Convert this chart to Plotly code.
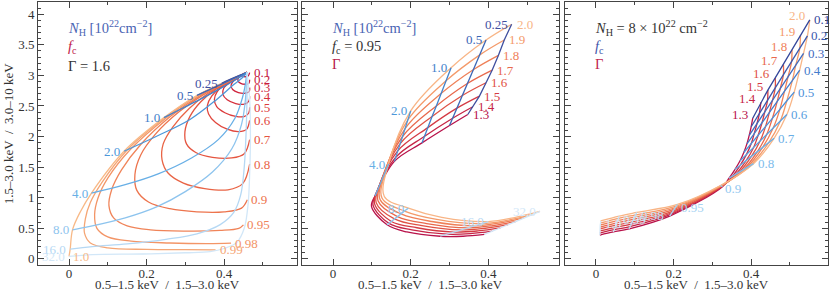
import plotly.graph_objects as go

FONT = "Liberation Serif"

# ---------------- Panel 1: Gamma = 1.6, N_H lines and f_c loops ----------------
P1_NH_LABELS = ["0.25", "0.5", "1.0", "2.0", "4.0", "8.0", "16.0", "32.0"]
P1_NH_X = [
    [0.394, 0.426, 0.459],
    [0.330, 0.395, 0.459],
    [0.245, 0.290, 0.338, 0.400, 0.435, 0.459],
    [0.142, 0.226, 0.312, 0.381, 0.425, 0.447, 0.459],
    [0.058, 0.145, 0.230, 0.316, 0.385, 0.428, 0.448, 0.456, 0.459],
    [0.009, 0.054, 0.145, 0.226, 0.300, 0.370, 0.420, 0.445, 0.455, 0.459],
    [0.003, 0.060, 0.150, 0.250, 0.330, 0.390, 0.425, 0.443, 0.452, 0.457, 0.459, 0.459],
    [0.000, 0.060, 0.190, 0.300, 0.364, 0.400, 0.433, 0.452, 0.462, 0.466, 0.468, 0.466, 0.459],
]
P1_NH_Y = [
    [2.870, 2.962, 3.050],
    [2.672, 2.862, 3.050],
    [2.310, 2.455, 2.607, 2.820, 2.950, 3.050],
    [1.760, 2.005, 2.279, 2.607, 2.850, 2.960, 3.050],
    [1.077, 1.213, 1.390, 1.650, 1.950, 2.300, 2.650, 2.900, 3.050],
    [0.475, 0.530, 0.670, 0.850, 1.100, 1.420, 1.800, 2.200, 2.600, 3.050],
    [0.159, 0.200, 0.245, 0.320, 0.410, 0.560, 0.760, 1.050, 1.500, 2.100, 2.600, 3.050],
    [0.040, 0.070, 0.080, 0.100, 0.120, 0.170, 0.270, 0.500, 0.900, 1.400, 2.000, 2.600, 3.050],
]

P1_FC_LABELS = ["0.1", "0.2", "0.3", "0.4", "0.5", "0.6", "0.7", "0.8", "0.9", "0.95", "0.98", "0.99", "1.0"]
P1_FC_X = [
    [0.459, 0.452, 0.447, 0.448, 0.455, 0.462, 0.466],
    [0.459, 0.447, 0.437, 0.436, 0.443, 0.455, 0.464, 0.466],
    [0.459, 0.443, 0.425, 0.418, 0.422, 0.437, 0.455, 0.465, 0.466],
    [0.459, 0.438, 0.413, 0.399, 0.397, 0.408, 0.430, 0.452, 0.464, 0.466],
    [0.459, 0.433, 0.402, 0.382, 0.375, 0.381, 0.402, 0.430, 0.453, 0.464, 0.466],
    [0.459, 0.428, 0.392, 0.368, 0.357, 0.360, 0.378, 0.408, 0.438, 0.458, 0.466],
    [0.459, 0.423, 0.378, 0.340, 0.312, 0.299, 0.303, 0.327, 0.370, 0.420, 0.452, 0.466],
    [0.459, 0.418, 0.362, 0.310, 0.268, 0.243, 0.240, 0.256, 0.295, 0.350, 0.410, 0.448, 0.466],
    [0.459, 0.410, 0.348, 0.283, 0.223, 0.185, 0.170, 0.175, 0.205, 0.260, 0.330, 0.400, 0.445, 0.460],
    [0.459, 0.403, 0.338, 0.262, 0.185, 0.135, 0.110, 0.103, 0.115, 0.150, 0.210, 0.300, 0.390, 0.438, 0.450],
    [0.459, 0.398, 0.333, 0.252, 0.160, 0.100, 0.075, 0.066, 0.072, 0.100, 0.160, 0.260, 0.360, 0.418],
    [0.459, 0.396, 0.331, 0.248, 0.150, 0.085, 0.055, 0.042, 0.040, 0.055, 0.100, 0.200, 0.300, 0.378],
    [0.459, 0.394, 0.330, 0.245, 0.142, 0.058, 0.030, 0.009, 0.003, 0.000],
]
P1_FC_Y = [
    [3.05, 3.035, 3.012, 2.99, 2.978, 2.99, 3.045],
    [3.05, 3.01, 2.96, 2.91, 2.87, 2.855, 2.87, 2.93],
    [3.05, 2.99, 2.91, 2.84, 2.77, 2.72, 2.71, 2.74, 2.80],
    [3.05, 2.975, 2.88, 2.79, 2.69, 2.60, 2.54, 2.53, 2.58, 2.66],
    [3.05, 2.96, 2.85, 2.73, 2.61, 2.49, 2.39, 2.33, 2.33, 2.39, 2.48],
    [3.05, 2.945, 2.81, 2.66, 2.51, 2.37, 2.23, 2.12, 2.08, 2.12, 2.265],
    [3.05, 2.93, 2.77, 2.57, 2.33, 2.08, 1.88, 1.74, 1.66, 1.65, 1.72, 1.95],
    [3.05, 2.915, 2.72, 2.46, 2.16, 1.88, 1.62, 1.40, 1.24, 1.15, 1.13, 1.23, 1.55],
    [3.05, 2.895, 2.69, 2.40, 2.04, 1.70, 1.38, 1.12, 0.93, 0.82, 0.77, 0.77, 0.83, 0.967],
    [3.05, 2.88, 2.67, 2.33, 1.87, 1.45, 1.13, 0.87, 0.67, 0.54, 0.475, 0.455, 0.465, 0.50, 0.557],
    [3.05, 2.872, 2.672, 2.312, 1.80, 1.32, 1.00, 0.72, 0.50, 0.36, 0.29, 0.26, 0.25, 0.257],
    [3.05, 2.871, 2.672, 2.311, 1.78, 1.25, 0.92, 0.65, 0.42, 0.26, 0.18, 0.155, 0.15, 0.148],
    [3.05, 2.870, 2.672, 2.310, 1.760, 1.077, 0.780, 0.475, 0.159, 0.040],
]

# ---------------- Panel 2: f_c = 0.95, Gamma curves vs N_H ----------------
P2_GAMMA_LABELS = ["1.3", "1.4", "1.5", "1.6", "1.7", "1.8", "1.9", "2.0"]
P2_NODE_NH = ["0.25", "0.5", "1.0", "2.0", "4.0", "", "8.0", "", "16.0", "", "32.0"]
P2_X = [
    [0.347, 0.360, 0.377, 0.394, 0.410, 0.426, 0.441, 0.460],
    [0.300, 0.308, 0.319, 0.333, 0.346, 0.362, 0.378, 0.394],
    [0.229, 0.235, 0.244, 0.255, 0.266, 0.278, 0.291, 0.304],
    [0.158, 0.162, 0.166, 0.173, 0.179, 0.186, 0.193, 0.200],
    [0.108, 0.111, 0.115, 0.120, 0.125, 0.131, 0.137, 0.143],
    [0.099, 0.103, 0.107, 0.111, 0.116, 0.121, 0.126, 0.132],
    [0.139, 0.144, 0.150, 0.158, 0.166, 0.175, 0.184, 0.194],
    [0.190, 0.203, 0.216, 0.229, 0.241, 0.254, 0.267, 0.280],
    [0.276, 0.294, 0.311, 0.329, 0.347, 0.365, 0.382, 0.400],
    [0.335, 0.354, 0.373, 0.392, 0.412, 0.431, 0.451, 0.470],
    [0.390, 0.410, 0.431, 0.451, 0.472, 0.492, 0.513, 0.533],
]
P2_Y = [
    [2.361, 2.487, 2.661, 2.880, 3.087, 3.328, 3.579, 3.836],
    [2.180, 2.299, 2.464, 2.672, 2.868, 3.096, 3.336, 3.579],
    [1.896, 2.001, 2.146, 2.329, 2.501, 2.702, 2.912, 3.126],
    [1.595, 1.665, 1.762, 1.885, 2.001, 2.135, 2.276, 2.420],
    [1.030, 1.074, 1.136, 1.213, 1.286, 1.371, 1.460, 1.550],
    [0.860, 0.880, 0.900, 0.920, 0.945, 0.970, 0.995, 1.020],
    [0.557, 0.580, 0.612, 0.653, 0.691, 0.736, 0.782, 0.830],
    [0.440, 0.474, 0.509, 0.543, 0.577, 0.611, 0.646, 0.680],
    [0.370, 0.404, 0.439, 0.473, 0.507, 0.541, 0.576, 0.610],
    [0.370, 0.414, 0.457, 0.501, 0.545, 0.589, 0.632, 0.680],
    [0.400, 0.454, 0.507, 0.561, 0.615, 0.669, 0.722, 0.776],
]

# ---------------- Panel 3: N_H = 8e22, Gamma curves vs f_c ----------------
P3_GAMMA_LABELS = ["1.3", "1.4", "1.5", "1.6", "1.7", "1.8", "1.9", "2.0"]
P3_FC_LABELS = ["0.1", "0.2", "0.3", "0.4", "0.5", "0.6", "0.7", "0.8", "0.9", "0.95", "0.98", "0.99", "1.0"]
P3_X = [
    [0.404, 0.425, 0.443, 0.462, 0.483, 0.505, 0.527, 0.551],
    [0.400, 0.421, 0.442, 0.462, 0.483, 0.504, 0.525, 0.545],
    [0.395, 0.415, 0.435, 0.455, 0.475, 0.495, 0.515, 0.535],
    [0.389, 0.408, 0.428, 0.447, 0.467, 0.486, 0.506, 0.525],
    [0.381, 0.400, 0.418, 0.437, 0.455, 0.474, 0.492, 0.511],
    [0.371, 0.388, 0.406, 0.423, 0.440, 0.457, 0.475, 0.492],
    [0.358, 0.372, 0.387, 0.401, 0.416, 0.430, 0.445, 0.459],
    [0.343, 0.352, 0.361, 0.370, 0.379, 0.388, 0.397, 0.406],
    [0.326, 0.325, 0.325, 0.324, 0.323, 0.323, 0.322, 0.321],
    [0.190, 0.193, 0.196, 0.199, 0.201, 0.204, 0.207, 0.210],
    [0.085, 0.088, 0.091, 0.094, 0.096, 0.099, 0.102, 0.105],
    [0.045, 0.047, 0.049, 0.051, 0.054, 0.056, 0.058, 0.060],
    [0.010, 0.010, 0.011, 0.011, 0.011, 0.011, 0.012, 0.012],
]
P3_Y = [
    [2.300, 2.560, 2.760, 2.960, 3.180, 3.415, 3.656, 3.907],
    [2.160, 2.372, 2.584, 2.796, 3.008, 3.221, 3.433, 3.645],
    [2.020, 2.212, 2.403, 2.595, 2.786, 2.978, 3.170, 3.361],
    [1.880, 2.052, 2.225, 2.397, 2.570, 2.742, 2.914, 3.087],
    [1.740, 1.881, 2.022, 2.163, 2.304, 2.445, 2.586, 2.727],
    [1.600, 1.709, 1.817, 1.926, 2.034, 2.143, 2.251, 2.360],
    [1.460, 1.533, 1.606, 1.679, 1.753, 1.826, 1.899, 1.972],
    [1.320, 1.354, 1.388, 1.422, 1.455, 1.489, 1.523, 1.557],
    [1.180, 1.183, 1.186, 1.189, 1.191, 1.194, 1.197, 1.200],
    [0.700, 0.727, 0.754, 0.781, 0.809, 0.836, 0.863, 0.890],
    [0.490, 0.529, 0.567, 0.606, 0.644, 0.683, 0.721, 0.760],
    [0.440, 0.477, 0.514, 0.551, 0.589, 0.626, 0.663, 0.700],
    [0.390, 0.423, 0.456, 0.489, 0.521, 0.554, 0.587, 0.620],
]

# ---------------- styles ----------------
NH_COLORS = ["#3f4f9f", "#3c66b6", "#4282cb", "#4d97d9", "#68afe6", "#8dc4ee", "#b5d8f4", "#d2e7f8"]
FC_RED = ["#c2153f", "#c81c3e", "#cf253d", "#d6303c", "#dc3b3c", "#e1473d", "#e55540",
          "#e96445", "#ed744d", "#f08459", "#f39567", "#f5a675", "#f8b987"]
GAMMA_COLORS = ["#b8124a", "#c62446", "#d43a44", "#df5245", "#e8684c", "#ef8058", "#f49a6a", "#f8b586"]
FC_BLUE = ["#34479b", "#3a58ad", "#3f6abe", "#457dcc", "#4d8fd8", "#59a0e0", "#68aee6",
           "#7cbcec", "#92c8f0", "#a6d2f2", "#b8dcf5", "#c6e3f7", "#d3e9f9"]
LW = 1.3
LBL = 13

fig = go.Figure()
ann = []


def line(x, y, color, xa, ya, shape="spline"):
    fig.add_trace(go.Scatter(x=x, y=y, mode="lines", xaxis=xa, yaxis=ya,
                             line=dict(color=color, width=LW, shape=shape, smoothing=1.0),
                             hoverinfo="skip", showlegend=False))


def label(text, x, y, color, xa, ya, anchor, xs=0, ys=0):
    ann.append(dict(text=text, x=x, y=y, xref=xa, yref=ya, showarrow=False,
                    xanchor=anchor, yanchor="middle", xshift=xs, yshift=ys,
                    font=dict(family=FONT, size=LBL, color=color)))


# panel 1
for i, lab in enumerate(P1_FC_LABELS):
    line(P1_FC_X[i], P1_FC_Y[i], FC_RED[i], "x", "y")
for i, lab in enumerate(P1_NH_LABELS):
    line(P1_NH_X[i], P1_NH_Y[i], NH_COLORS[i], "x", "y")
for i, lab in enumerate(P1_FC_LABELS):
    label(lab, P1_FC_X[i][-1], P1_FC_Y[i][-1], FC_RED[i], "x", "y", "left", xs=2)
for i, lab in enumerate(P1_NH_LABELS):
    label(lab, P1_NH_X[i][0], P1_NH_Y[i][0], NH_COLORS[i], "x", "y", "right", xs=-2)

# panel 2
for j, lab in enumerate(P2_GAMMA_LABELS):
    line([r[j] for r in P2_X], [r[j] for r in P2_Y], GAMMA_COLORS[j], "x2", "y2")
nh_k = 0
for r, lab in enumerate(P2_NODE_NH):
    if lab:
        line(P2_X[r], P2_Y[r], NH_COLORS[nh_k], "x2", "y2", shape="linear")
        label(lab, P2_X[r][-1], P2_Y[r][-1], NH_COLORS[nh_k], "x2", "y2", "right", xs=-2)
        nh_k += 1
for j, lab in enumerate(P2_GAMMA_LABELS):
    label(lab, P2_X[0][j], P2_Y[0][j], GAMMA_COLORS[j], "x2", "y2", "left", xs=3)

# panel 3
for j, lab in enumerate(P3_GAMMA_LABELS):
    line([r[j] for r in P3_X], [r[j] for r in P3_Y], GAMMA_COLORS[j], "x3", "y3")
for r, lab in enumerate(P3_FC_LABELS):
    line(P3_X[r], P3_Y[r], FC_BLUE[r], "x3", "y3", shape="linear")
    label(lab, P3_X[r][-1], P3_Y[r][-1], FC_BLUE[r], "x3", "y3", "left",
          xs=2, ys=(-3 if r >= 8 else 0))
for j, lab in enumerate(P3_GAMMA_LABELS):
    label(lab, P3_X[0][j], P3_Y[0][j], GAMMA_COLORS[j], "x3", "y3", "right", xs=-3, ys=4)


# headers
def head(text, x, y, color, xa, ya):
    ann.append(dict(text=text, x=x, y=y, xref=xa, yref=ya, showarrow=False,
                    xanchor="left", yanchor="middle",
                    font=dict(family=FONT, size=14.5, color=color)))


NH_TXT = "<i>N</i><sub>H</sub> [10<sup>22</sup>cm<sup>−2</sup>]"
head(NH_TXT, -0.008, 3.77, "#4a64b4", "x", "y")
head("<i>f</i><sub>c</sub>", -0.008, 3.46, "#c0204a", "x", "y")
head("Γ = 1.6", -0.008, 3.16, "#333333", "x", "y")
head(NH_TXT, -0.008, 3.77, "#4a64b4", "x2", "y2")
head("<i>f</i><sub>c</sub> = 0.95", -0.008, 3.47, "#333333", "x2", "y2")
head("Γ", -0.008, 3.19, "#b8184a", "x2", "y2")
head("<i>N</i><sub>H</sub> = 8 × 10<sup>22</sup> cm<sup>−2</sup>", -0.008, 3.78, "#333333", "x3", "y3")
head("<i>f</i><sub>c</sub>", -0.008, 3.46, "#3f55a8", "x3", "y3")
head("Γ", -0.008, 3.18, "#c02850", "x3", "y3")

# axis titles
XT = "0.5–1.5 keV  /  1.5–3.0 keV"
for xc in [0.1639, 0.4968, 0.8335]:
    ann.append(dict(text=XT, x=xc, y=-0.074, xref="paper", yref="paper", showarrow=False,
                    xanchor="center", yanchor="middle",
                    font=dict(family=FONT, size=13, color="#333333")))
ann.append(dict(text="1.5–3.0 keV  /  3.0–10 keV", x=-0.037, y=0.5, xref="paper", yref="paper",
                showarrow=False, textangle=-90, xanchor="center", yanchor="middle",
                font=dict(family=FONT, size=13, color="#333333")))

AX = dict(showline=True, linecolor="#444444", linewidth=1, mirror="allticks",
          ticks="inside", ticklen=6, tickcolor="#444444", tickwidth=1,
          showgrid=False, zeroline=False,
          tickfont=dict(family=FONT, size=13, color="#333333"))
XMIN = dict(dtick=0.1, tick0=0, ticks="inside", ticklen=3, tickcolor="#444444", showgrid=False)
YMIN = dict(dtick=0.1, tick0=0, ticks="inside", ticklen=3, tickcolor="#444444", showgrid=False)

X_DOMAINS = [[0.0, 0.3278], [0.3342, 0.6595], [0.667, 1.0]]
X_RANGES = [[-0.08, 0.588], [-0.08, 0.582], [-0.08, 0.598]]

layout = dict(width=830, height=294, margin=dict(l=38, r=2, t=2, b=29),
              paper_bgcolor="white", plot_bgcolor="white", annotations=ann,
              font=dict(family=FONT))
for k in range(3):
    sx = "" if k == 0 else str(k + 1)
    layout["xaxis" + sx] = dict(AX, domain=X_DOMAINS[k], range=X_RANGES[k],
                                tickmode="linear", tick0=0, dtick=0.2, minor=XMIN,
                                anchor="y" + sx, ticklabelstandoff=-4)
    layout["yaxis" + sx] = dict(AX, domain=[0, 1], range=[-0.1, 4.2],
                                tickmode="linear", tick0=0, dtick=0.5, minor=YMIN,
                                anchor="x" + sx, showticklabels=(k == 0))
fig.update_layout(**layout)
fig.write_html("out.html", config={"displayModeBar": False, "staticPlot": True},
               post_script="document.body.style.margin='0';document.body.style.padding='0';")
